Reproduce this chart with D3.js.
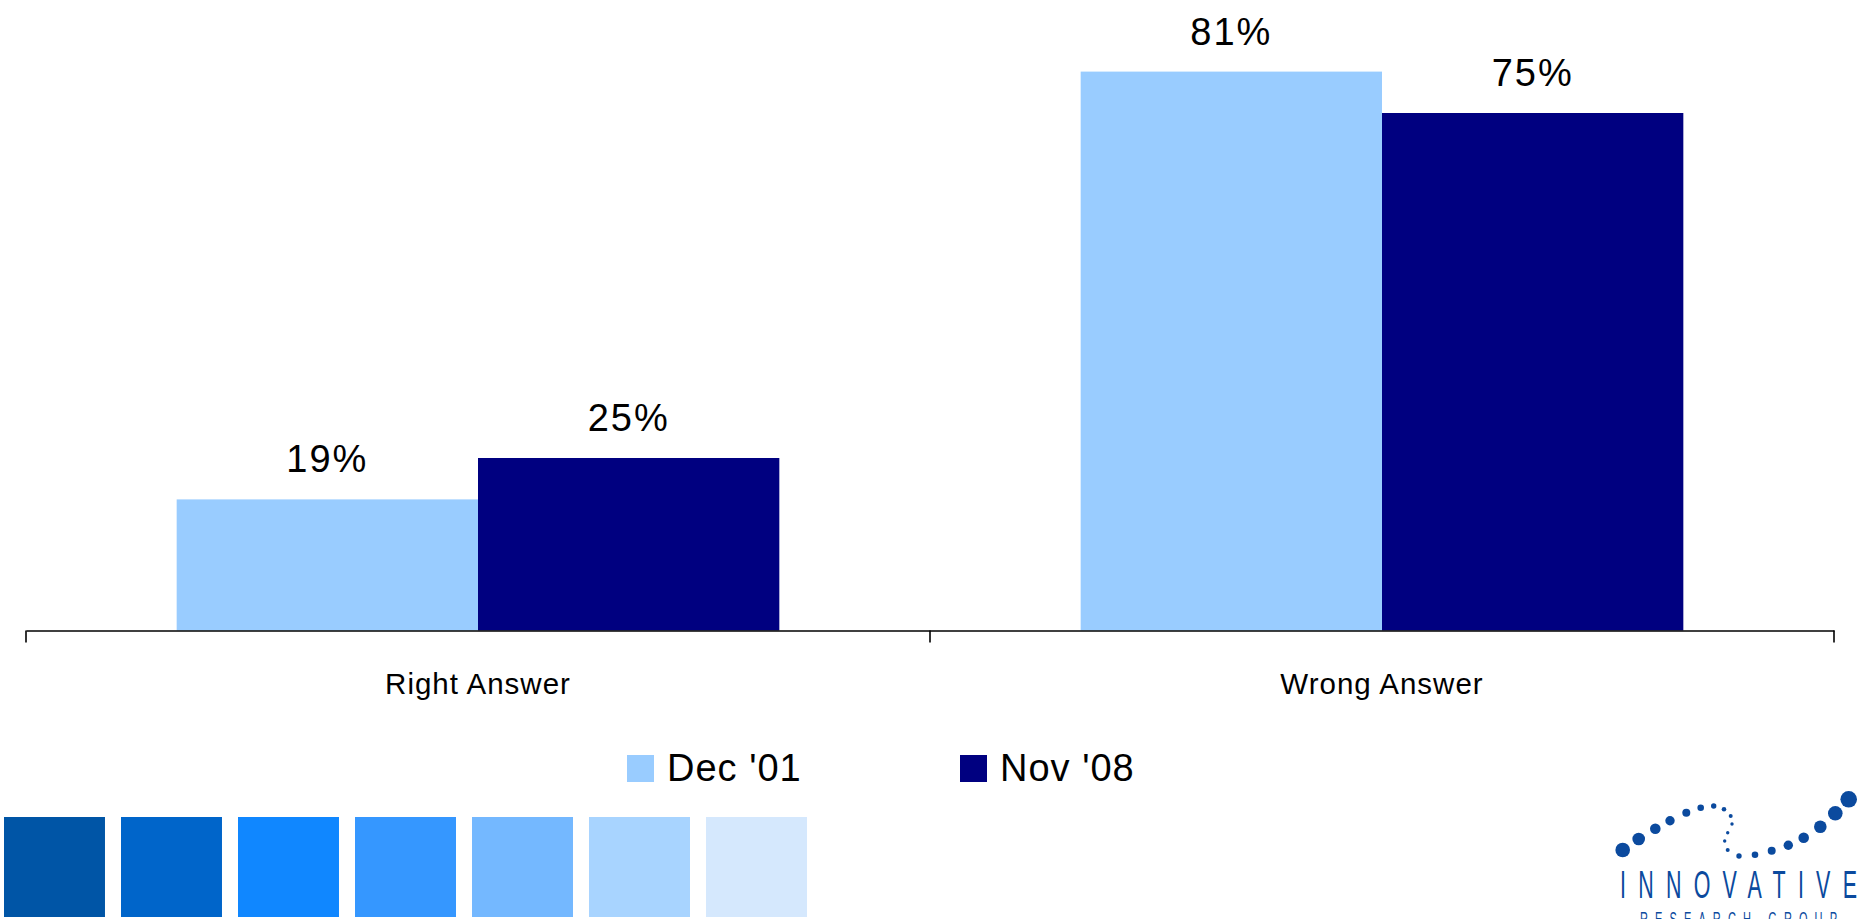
<!DOCTYPE html>
<html>
<head>
<meta charset="utf-8">
<script src="https://cdn.jsdelivr.net/npm/d3@7"></script>
<style>
  html, body { margin: 0; padding: 0; background: #ffffff; }
  svg { display: block; }
</style>
</head>
<body>
<svg id="chart" width="1858" height="919"></svg>
<script>
// ---- data ----
const categories = ["Right Answer", "Wrong Answer"];
const seriesNames = ["Dec '01", "Nov '08"];
const dec01 = [19, 81];
const nov08 = [25, 75];
const seriesColors = ["#99CCFF", "#000080"];
const swatchColors = ["#0055A6", "#0065CA", "#1087FF", "#3597FF", "#74B8FF", "#A8D4FF", "#D5E8FD"];

const svg = d3.select("#chart");
const font = "Arial, 'Liberation Sans', Helvetica, sans-serif";

// ---- scales ----
const x0 = d3.scaleBand().domain(categories).range([26, 1834]).paddingInner(0).paddingOuter(0);
const x1 = d3.scaleBand().domain(seriesNames).range([0, x0.bandwidth()]).paddingInner(0).paddingOuter(0.5);
const y = d3.scaleLinear().domain([0, 90]).range([630.5, 9.5]);
const color = d3.scaleOrdinal().domain(seriesNames).range(seriesColors);

const rows = categories.map((c, i) => ({
  cat: c,
  vals: [{ s: seriesNames[0], v: dec01[i] }, { s: seriesNames[1], v: nov08[i] }]
}));

// ---- bars ----
const groups = svg.append("g").selectAll("g").data(rows).join("g")
  .attr("transform", d => `translate(${x0(d.cat)},0)`);

groups.selectAll("rect").data(d => d.vals).join("rect")
  .attr("x", d => x1(d.s))
  .attr("width", x1.bandwidth())
  .attr("y", d => y(d.v))
  .attr("height", d => y(0) - y(d.v))
  .attr("fill", d => color(d.s));

groups.selectAll("text.val").data(d => d.vals).join("text")
  .attr("class", "val")
  .attr("x", d => x1(d.s) + x1.bandwidth() / 2)
  .attr("y", d => y(d.v) - 27)
  .attr("text-anchor", "middle")
  .attr("font-family", font)
  .attr("font-size", 38)
  .attr("letter-spacing", 2)
  .attr("fill", "#000")
  .text(d => d.v + "%");

// ---- x axis ----
const axis = d3.axisBottom(x0).tickSize(0).tickFormat("");
const ax = svg.append("g").attr("transform", `translate(0,${y(0)})`).call(axis);
ax.select(".domain").attr("stroke", "#000").attr("stroke-width", 1.6);
const edgeTicks = [x0.range()[0], ...categories.slice(1).map(c => x0(c)), x0.range()[1]];
ax.selectAll("line.edge").data(edgeTicks).join("line")
  .attr("class", "edge")
  .attr("x1", d => d).attr("x2", d => d)
  .attr("y1", 0).attr("y2", 12)
  .attr("stroke", "#000").attr("stroke-width", 1.6);

svg.append("g").selectAll("text").data(categories).join("text")
  .attr("x", d => x0(d) + x0.bandwidth() / 2)
  .attr("y", 694)
  .attr("text-anchor", "middle")
  .attr("font-family", font)
  .attr("font-size", 29.5)
  .attr("letter-spacing", 1)
  .attr("fill", "#000")
  .text(d => d);

// ---- legend ----
const legendX = [627, 960];
const lg = svg.append("g").selectAll("g").data(seriesNames).join("g")
  .attr("transform", (d, i) => `translate(${legendX[i]},755)`);
lg.append("rect").attr("width", 27).attr("height", 27).attr("fill", d => color(d));
lg.append("text")
  .attr("x", 40).attr("y", 26)
  .attr("font-family", font)
  .attr("font-size", 38)
  .attr("letter-spacing", 1)
  .attr("fill", "#000")
  .text(d => d);

// ---- decorative colour strip ----
const swX = d3.scaleBand().domain(d3.range(swatchColors.length)).range([4, 807]).paddingInner(0.137).paddingOuter(0);
svg.append("g").selectAll("rect").data(swatchColors).join("rect")
  .attr("x", (d, i) => swX(i))
  .attr("y", 817)
  .attr("width", swX.bandwidth())
  .attr("height", 100)
  .attr("fill", d => d);

// ---- logo ----
const logoDots = [
  [1622.7, 850, 7.3], [1638.7, 839, 6.3], [1655.3, 828.7, 5.3], [1670, 820.7, 4.7],
  [1686.3, 812.7, 4], [1700.7, 807.7, 3.3], [1713.7, 806, 2.7], [1724, 809.3, 2.3],
  [1730.7, 816, 2], [1732, 824, 1.7], [1727.7, 832.7, 1.7], [1724.7, 841, 1.7],
  [1727.7, 850, 2], [1739, 856, 2.7], [1755, 854.7, 3.3], [1771.7, 850.7, 4],
  [1788.3, 845.3, 4.7], [1803.7, 837.7, 5.3], [1820.3, 826.7, 6.3], [1835.3, 813.3, 7.3],
  [1848.7, 799.3, 8.3]
];
const logoColor = "#0B4A9E";
svg.append("g").selectAll("circle").data(logoDots).join("circle")
  .attr("cx", d => d[0]).attr("cy", d => d[1]).attr("r", d => d[2])
  .attr("fill", logoColor);
const sx = 0.55;
svg.append("g").attr("transform", `translate(1620,898) scale(${sx},1)`)
  .append("text")
  .attr("x", 0).attr("y", 0)
  .attr("font-family", font)
  .attr("font-size", 39)
  .attr("textLength", 237 / sx).attr("lengthAdjust", "spacing")
  .attr("fill", logoColor)
  .text("INNOVATIVE");
svg.append("g").attr("transform", `translate(1640,926) scale(${sx},1)`)
  .append("text")
  .attr("x", 0).attr("y", 0)
  .attr("font-family", font)
  .attr("font-size", 20)
  .attr("textLength", 197 / sx).attr("lengthAdjust", "spacing")
  .attr("fill", logoColor)
  .text("RESEARCH GROUP");
</script>
</body>
</html>
